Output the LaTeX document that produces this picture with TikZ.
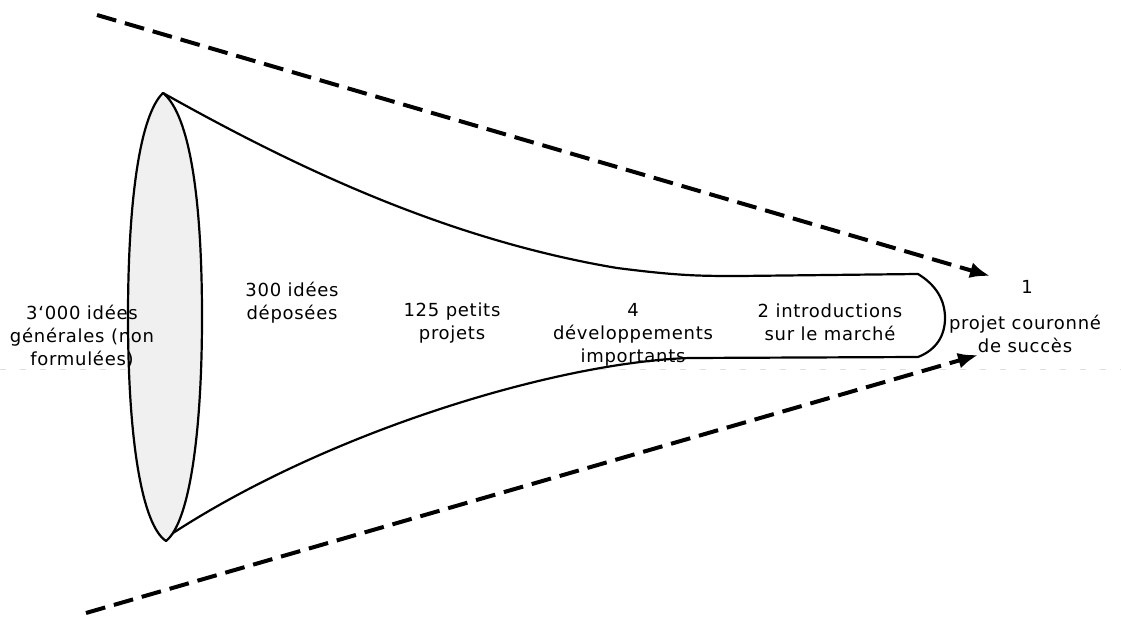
\documentclass[tikz,border=0pt]{standalone}
\usepackage{fontspec}
\setmainfont[LetterSpace=4]{DejaVu Sans}
\usetikzlibrary{arrows.meta}
\begin{document}
\begin{tikzpicture}[x=1pt,y=-1pt,
  lbl/.style={align=center,font=\fontsize{18}{23}\selectfont,inner sep=0pt},
  bigarrow/.style={line width=4pt,dash pattern=on 20pt off 9pt,-{Latex[length=20pt,width=16pt]}},
  outline/.style={line width=2.2pt,line join=round}]
\useasboundingbox (0,0) rectangle (1121,617);
% faint scan line
\draw[gray!25,line width=1pt,dash pattern=on 6pt off 14pt] (0,369) -- (1121,369);
% funnel body
\draw[outline,fill=white] (163,93) .. controls (300,170) and (450,240) .. (617,268)
  .. controls (680,276) and (700,276) .. (740,276) -- (918,274)
  .. controls (936,285) and (945,300) .. (945,318)
  .. controls (945,336) and (936,350) .. (918,357)
  -- (690,358) .. controls (560,362) and (330,430) .. (170,535);
% mouth
\draw[outline,fill=gray!12] (163,93) .. controls (140,115) and (128,200) .. (128,317)
  .. controls (128,440) and (142,525) .. (166,541)
  .. controls (190,522) and (202,430) .. (202,317)
  .. controls (202,200) and (190,115) .. (163,93) -- cycle;
% labels
\node[lbl] (n3000) at (82,336) {3‘000 idées\\générales (non\\formulées)};
\node[lbl] (n300) at (292,303) {300 idées\\déposées};
\node[lbl] (n125) at (452,323) {125 petits\\projets};
\node[lbl] (n4) at (633,335) {4\\développements\\importants};
\node[lbl] (n2) at (830,322) {2 introductions\\sur le marché};
\node[lbl] (n1) at (1027,287) {1};
\node[lbl] (proj) at (1025,334) {projet couronné\\de succès};
% dashed arrows
\coordinate (ta) at (97,15);
\coordinate (tb) at (990,276);
\coordinate (ba) at (86,613);
\coordinate (bb) at (978,355);
\draw[bigarrow] (ta) -- (tb);
\draw[bigarrow] (ba) -- (bb);
\end{tikzpicture}
\end{document}
